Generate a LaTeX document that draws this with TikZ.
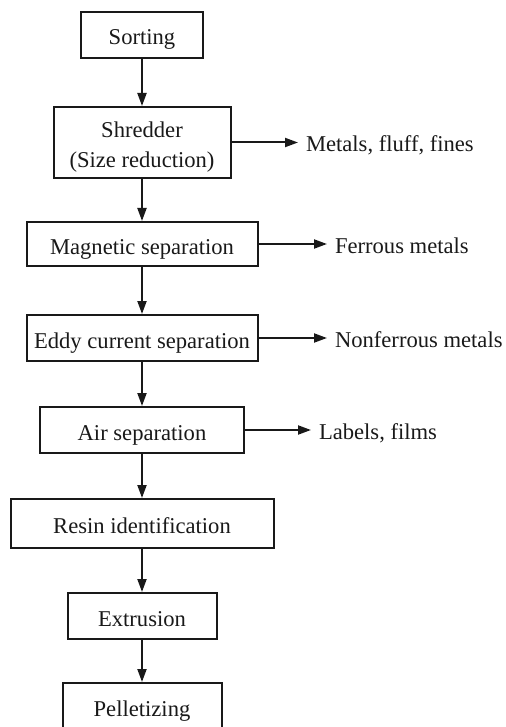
\documentclass[tikz,border=0pt]{standalone}
\usepackage{fontspec}
\setmainfont{Liberation Serif}
\usetikzlibrary{arrows.meta}

\begin{document}
\begin{tikzpicture}[x=0.5pt,y=-0.5pt,color=black!90,line width=1pt,
  font=\fontsize{11.3}{15}\selectfont,
  procbox/.style={draw,inner sep=0pt,text height=10pt,text depth=0pt},
  outtext/.style={anchor=west,inner ysep=0pt,inner xsep=3.5pt,text height=9pt,text depth=0pt},
  flow/.style={-{Triangle[length=6.5pt,width=4.5pt]}}]
\clip (0,0) rectangle (506,727);
\node[procbox,minimum width=61pt,minimum height=23pt] (sort) at (142,35) {Sorting};
\node[procbox,minimum width=88.5pt,minimum height=35.5pt,align=center,text height={},text depth={}] (shred) at (142,142.5) {\rule{0pt}{12pt}Shredder\\(Size reduction)};
\node[procbox,minimum width=115.5pt,minimum height=22pt] (magnet) at (142,244) {Magnetic separation};
\node[procbox,minimum width=115.5pt,minimum height=23pt] (eddy) at (142,338) {Eddy current separation};
\node[procbox,minimum width=102pt,minimum height=23pt] (air) at (142,430) {Air separation};
\node[procbox,minimum width=131.5pt,minimum height=24.5pt] (resin) at (142,523.5) {Resin identification};
\node[procbox,minimum width=74.5pt,minimum height=23pt] (extrude) at (142,616) {Extrusion};
\node[procbox,minimum width=79.5pt,minimum height=23pt] (pellet) at (142,706) {Pelletizing};
\node[outtext] (metals) at (298,142.5) {Metals, fluff, fines};
\node[outtext] (ferrous) at (327,244) {Ferrous metals};
\node[outtext] (nonferrous) at (327,338) {Nonferrous metals};
\node[outtext] (films) at (311,430) {Labels, films};
\draw[flow] (sort) -- (shred);
\draw[flow] (shred) -- (magnet);
\draw[flow] (magnet) -- (eddy);
\draw[flow] (eddy) -- (air);
\draw[flow] (air) -- (resin);
\draw[flow] (resin) -- (extrude);
\draw[flow] (extrude) -- (pellet);
\draw[flow] (shred) -- (metals);
\draw[flow] (magnet) -- (ferrous);
\draw[flow] (eddy) -- (nonferrous);
\draw[flow] (air) -- (films);
\end{tikzpicture}
\end{document}
